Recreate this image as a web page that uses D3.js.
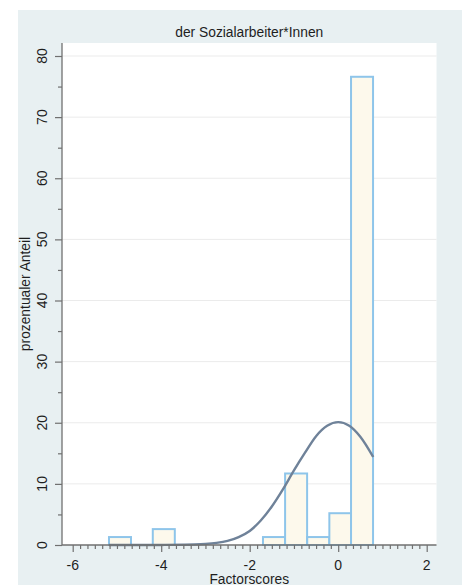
<!DOCTYPE html>
<html>
<head>
<meta charset="utf-8">
<script src="https://cdn.jsdelivr.net/npm/d3@7"></script>
<style>
  html, body { margin: 0; padding: 0; background: #ffffff; }
  svg { display: block; }
  text { font-family: "Liberation Sans", Arial, sans-serif; fill: #1e1e1e; }
</style>
</head>
<body>
<svg id="chart" width="462" height="585"></svg>
<script>
// Histogram of factor scores (percent per bin) with fitted normal curve
const title = "der Sozialarbeiter*Innen";
const xLabel = "Factorscores";
const yLabel = "prozentualer Anteil";

// Left edges of the histogram bins and the share of cases in each
const binWidth = 0.4975;
const binStarts = [-5.18, -4.69, -4.19, -3.69, -3.19, -2.70, -2.20, -1.70, -1.20, -0.70, -0.20, 0.29];
const binPercents = [1.3, 0, 2.6, 0, 0, 0, 0, 1.3, 11.7, 1.3, 5.2, 76.6];

// Normal density curve, in percent per bin
const curveX = [-5.18, -4.5, -4.0, -3.5, -3.25, -3.0, -2.75, -2.5, -2.25, -2.0, -1.75, -1.5, -1.25, -1.0, -0.75, -0.5, -0.25, 0.0, 0.25, 0.5, 0.79];
const curveY = [0, 0, 0.01, 0.04, 0.08, 0.17, 0.35, 0.68, 1.3, 2.3, 4.0, 6.3, 9.1, 12.2, 15.1, 17.8, 19.5, 20.1, 19.5, 17.7, 14.4];

const xTicks = [-6, -4, -2, 0, 2];
const yTicks = [0, 10, 20, 30, 40, 50, 60, 70, 80];

const svg = d3.select("#chart");
const W = 462, H = 585;

// Graph region background
svg.append("rect")
  .attr("x", 18).attr("y", 10)
  .attr("width", W - 18).attr("height", H - 10)
  .attr("fill", "#e8f0f2");

// Plot region
const plot = { left: 62, right: 436.5, top: 43, bottom: 545 };
svg.append("rect")
  .attr("x", plot.left).attr("y", plot.top)
  .attr("width", plot.right - plot.left).attr("height", plot.bottom - plot.top)
  .attr("fill", "#ffffff");

const x = d3.scaleLinear().domain([-6, 2]).range([72.7, 426.7]);
const y = d3.scaleLinear().domain([0, 80]).range([545, 56]);

// Horizontal grid lines
svg.append("g")
  .selectAll("line")
  .data(yTicks.filter(d => d > 0))
  .join("line")
  .attr("x1", plot.left).attr("x2", plot.right)
  .attr("y1", d => y(d)).attr("y2", d => y(d))
  .attr("stroke", "#ebebeb")
  .attr("stroke-width", 1);

// Bars
const bins = binStarts.map((s, i) => ({ x0: s, x1: s + binWidth, v: binPercents[i] }))
  .filter(d => d.v > 0);
svg.append("g")
  .selectAll("rect")
  .data(bins)
  .join("rect")
  .attr("x", d => x(d.x0))
  .attr("y", d => y(d.v))
  .attr("width", d => x(d.x1) - x(d.x0))
  .attr("height", d => y(0) - y(d.v))
  .attr("fill", "#fdf9ec")
  .attr("stroke", "#8ec5ea")
  .attr("stroke-width", 2);

// Normal curve
const line = d3.line()
  .x(d => x(d[0]))
  .y(d => y(d[1]))
  .curve(d3.curveMonotoneX);
svg.append("path")
  .datum(curveX.map((cx, i) => [cx, curveY[i]]))
  .attr("d", line)
  .attr("fill", "none")
  .attr("stroke", "#6f8299")
  .attr("stroke-width", 2.4);

// Y axis
const yAxis = svg.append("g").attr("transform", `translate(${plot.left},0)`);
yAxis.append("line")
  .attr("x1", 0).attr("x2", 0)
  .attr("y1", plot.top).attr("y2", plot.bottom)
  .attr("stroke", "#707070").attr("stroke-width", 1.3);
yAxis.call(d3.axisLeft(y).tickValues(d3.range(5, 80, 10)).tickSize(4).tickFormat(""))
  .call(g => g.select(".domain").remove());
svg.append("g").attr("transform", `translate(${plot.left},0)`)
  .call(d3.axisLeft(y).tickValues(yTicks).tickSize(7).tickFormat(""))
  .call(g => g.select(".domain").remove());
svg.selectAll(".tick line").attr("stroke", "#707070").attr("stroke-width", 1.2);
svg.append("g")
  .selectAll("text")
  .data(yTicks)
  .join("text")
  .attr("transform", d => `translate(42,${y(d)}) rotate(-90)`)
  .attr("text-anchor", "middle")
  .attr("dy", "0.36em")
  .attr("font-size", 14)
  .text(d => d);

// X axis
const xAxisG = svg.append("g").attr("transform", `translate(0,${plot.bottom})`);
xAxisG.append("line")
  .attr("x1", plot.left).attr("x2", plot.right)
  .attr("y1", 0).attr("y2", 0)
  .attr("stroke", "#707070").attr("stroke-width", 1.3);
const xMinor = d3.range(-36, 13).map(k => k / 6).filter(v => !xTicks.some(t => Math.abs(t - v) < 1e-6));
xAxisG.append("g")
  .call(d3.axisBottom(x).tickValues(xMinor).tickSize(4).tickFormat(""))
  .call(g => g.select(".domain").remove());
xAxisG.append("g")
  .call(d3.axisBottom(x).tickValues(xTicks).tickSize(7).tickFormat(""))
  .call(g => g.select(".domain").remove());
xAxisG.selectAll(".tick line").attr("stroke", "#707070").attr("stroke-width", 1.2);
svg.append("g")
  .selectAll("text")
  .data(xTicks)
  .join("text")
  .attr("x", d => x(d))
  .attr("y", 570)
  .attr("text-anchor", "middle")
  .attr("font-size", 14)
  .text(d => d);

// Titles
svg.append("text")
  .attr("x", (plot.left + plot.right) / 2)
  .attr("y", 37)
  .attr("text-anchor", "middle")
  .attr("font-size", 13.8)
  .text(title);

svg.append("text")
  .attr("x", (plot.left + plot.right) / 2)
  .attr("y", 583.5)
  .attr("text-anchor", "middle")
  .attr("font-size", 13.8)
  .text(xLabel);

svg.append("text")
  .attr("transform", `translate(25,${(plot.top + plot.bottom) / 2}) rotate(-90)`)
  .attr("text-anchor", "middle")
  .attr("dy", "0.35em")
  .attr("font-size", 13.8)
  .text(yLabel);
</script>
</body>
</html>
